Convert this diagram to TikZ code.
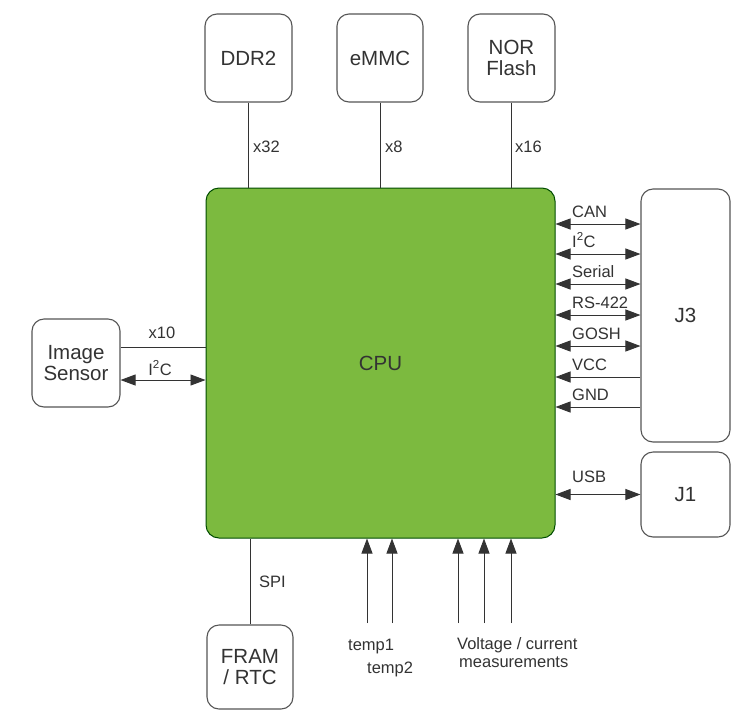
\documentclass[tikz,border=0pt]{standalone}
\usepackage{fontspec}
\setmainfont{Liberation Sans}
\usetikzlibrary{arrows.meta}
\definecolor{cpugreen}{HTML}{7CBA3F}
\definecolor{ink}{HTML}{333333}
\definecolor{edge}{HTML}{555555}
\tikzset{
  box/.style={draw=edge, line width=1.1pt, rounded corners=12pt, fill=white, inner sep=0pt,
    align=center, text=ink, font=\fontsize{20.5}{21}\selectfont},
  cpubox/.style={draw=black!70!green, line width=1pt, rounded corners=13pt, fill=cpugreen, inner sep=0pt,
    text=ink, font=\fontsize{20.5}{21}\selectfont},
  wire/.style={draw=ink, line width=0.9pt},
  biarrow/.style={wire, {Triangle[length=15pt,width=11pt]}-{Triangle[length=15pt,width=11pt]}},
  inarrow/.style={wire, -{Triangle[length=15pt,width=11pt]}},
  lbl/.style={text=ink, font=\fontsize{16.5}{18}\selectfont, inner sep=0pt},
}
\begin{document}
\begin{tikzpicture}[x=1pt,y=-1pt]
\useasboundingbox[fill=white] (0,0) rectangle (749,713);
% boxes
\node[box, minimum width=87pt, minimum height=88pt] (ddr) at (248.5,58) {DDR2};
\node[box, minimum width=86pt, minimum height=88pt] (emmc) at (380,58) {eMMC};
\node[box, minimum width=87pt, minimum height=88pt] (nor) at (511.5,58) {NOR\\Flash};
\node[cpubox, minimum width=349pt, minimum height=350pt] (cpu) at (380.5,363) {CPU};
\node[box, minimum width=89pt, minimum height=253pt] (j3) at (685.5,315.5) {J3};
\node[box, minimum width=89pt, minimum height=85pt] (j1) at (685.5,494.5) {J1};
\node[box, minimum width=88pt, minimum height=88pt] (img) at (76,363) {Image\\Sensor};
\node[box, minimum width=86pt, minimum height=84pt] (fram) at (250,667) {FRAM\\/ RTC};
% top buses
\draw[wire] (ddr.south) -- (ddr.south |- cpu.north);
\draw[wire] (emmc.south) -- (emmc.south |- cpu.north);
\draw[wire] (nor.south) -- (nor.south |- cpu.north);
\node[lbl, anchor=base west] (lx32) at (253,152) {x32};
\node[lbl, anchor=base west] (lx8) at (385,152) {x8};
\node[lbl, anchor=base west] (lx16) at (515,152) {x16};
% right side J3
\foreach \yy/\name in {224/CAN, 254/I\textsuperscript{2}C, 284/Serial, 315/RS-422, 346/GOSH}{
  \draw[biarrow] (cpu.east |- 0,\yy) -- (j3.west |- 0,\yy);
  \node[lbl, anchor=base west] at (572,\yy-7) {\name};
}
\foreach \yy/\name in {377/VCC, 407/GND}{
  \draw[inarrow] (j3.west |- 0,\yy) -- (cpu.east |- 0,\yy);
  \node[lbl, anchor=base west] at (572,\yy-7) {\name};
}
% J1
\draw[biarrow] (cpu.east |- j1.west) -- (j1.west);
\node[lbl, anchor=base west] (lusb) at (572,482) {USB};
% left image sensor
\draw[wire] (img.east |- 0,347) -- (cpu.west |- 0,347);
\draw[biarrow] (img.east |- 0,380) -- (cpu.west |- 0,380);
\node[lbl, anchor=base] (lx10) at (162,338) {x10};
\node[lbl, anchor=base] (li2c) at (160,375) {I\textsuperscript{2}C};
% bottom
\draw[wire] (fram.north) -- (fram.north |- cpu.south);
\node[lbl, anchor=base west] (lspi) at (259,587) {SPI};
\foreach \xx in {367,392,458,484,511}{
  \coordinate (s\xx) at (\xx,623);
  \draw[inarrow] (s\xx) -- (s\xx |- cpu.south);
}
\node[lbl, anchor=base west] (lt1) at (348,650) {temp1};
\node[lbl, anchor=base west] (lt2) at (367,673) {temp2};
\node[lbl, anchor=base west] (lv1) at (457,649) {Voltage / current};
\node[lbl, anchor=base west] (lv2) at (459,667) {measurements};
\end{tikzpicture}
\end{document}
